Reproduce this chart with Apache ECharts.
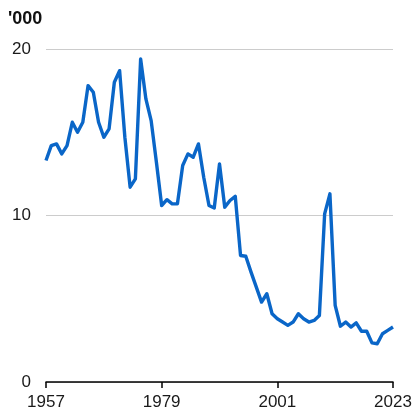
<!DOCTYPE html>
<html>
<head>
<meta charset="utf-8">
<script src="https://cdn.jsdelivr.net/npm/echarts@6/dist/echarts.min.js"></script>
<style>html,body{margin:0;padding:0;background:#fff}#c{width:418px;height:419px}</style>
</head>
<body>
<div id="c"></div>
<script>
const years = [];
for (let y = 1957; y <= 2023; y++) years.push(String(y));
const values = [
  13.3, 14.2, 14.3, 13.7, 14.2, 15.6, 15.0, 15.6, 17.8, 17.4,
  15.6, 14.7, 15.2, 18.0, 18.7, 14.7, 11.7, 12.2, 19.4, 17.0,
  15.7, 13.2, 10.6, 10.95, 10.7, 10.7, 13.0, 13.7, 13.5, 14.3,
  12.3, 10.6, 10.45, 13.1, 10.5, 10.9, 11.15, 7.6, 7.55, 6.6,
  5.7, 4.8, 5.3, 4.1, 3.8, 3.6, 3.4, 3.6, 4.1, 3.8,
  3.6, 3.7, 4.0, 10.1, 11.3, 4.6, 3.35, 3.6, 3.3, 3.55,
  3.05, 3.05, 2.35, 2.3, 2.9, 3.1, 3.3
];
const yTicks = { min: 0, max: 20, interval: 10 };
const unitLabel = "'000";

const chart = echarts.init(document.getElementById('c'), null, { renderer: 'canvas' });
chart.setOption({
  animation: false,
  backgroundColor: '#fff',
  textStyle: { fontFamily: 'Liberation Sans, Arial, sans-serif' },
  title: {
    text: unitLabel,
    left: 3, top: 5,
    textStyle: { fontSize: 18, fontWeight: 'bold', color: '#111', fontFamily: 'Liberation Sans, Arial, sans-serif' }
  },
  grid: { left: 46, right: 25, top: 49, bottom: 37, containLabel: false },
  xAxis: {
    type: 'category',
    data: years,
    boundaryGap: false,
    axisLine: { show: true, lineStyle: { color: '#000', width: 1.5 } },
    axisTick: { show: true, interval: 21, length: 6, lineStyle: { color: '#000', width: 1.5 } },
    axisLabel: { interval: 21, color: '#1a1a1a', fontSize: 17, margin: 12, showMaxLabel: true, showMinLabel: true },
    splitLine: { show: false }
  },
  yAxis: {
    type: 'value',
    min: yTicks.min, max: yTicks.max, interval: yTicks.interval,
    axisLine: { show: false },
    axisTick: { show: false },
    axisLabel: { color: '#1a1a1a', fontSize: 17, margin: 15 },
    splitLine: { show: true, lineStyle: { color: '#cccccc', width: 1 } }
  },
  series: [{
    type: 'line',
    data: values,
    showSymbol: false,
    symbol: 'none',
    lineStyle: { color: '#0a66c8', width: 3.4, join: 'round' },
    itemStyle: { color: '#0a66c8' }
  }]
});
</script>
</body>
</html>
